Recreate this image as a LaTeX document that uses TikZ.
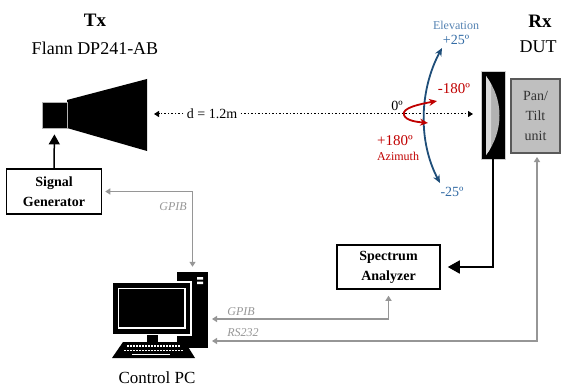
\documentclass[tikz,border=0pt]{standalone}
\usepackage{fontspec}
\setmainfont{Liberation Serif}
\usetikzlibrary{arrows.meta}
\definecolor{elevblue}{RGB}{31,78,121}
\definecolor{elevtext}{RGB}{52,108,165}
\definecolor{elevlight}{RGB}{84,130,178}
\definecolor{azred}{RGB}{192,0,0}
\definecolor{busgray}{RGB}{150,150,150}
\newcommand{\fs}[1]{\fontsize{#1}{#1}\selectfont}
\tikzset{
  box/.style={draw,line width=1.5pt,inner sep=0pt,align=center,
    font=\fontsize{14}{20}\selectfont\bfseries},
  bus/.style={busgray,line width=1.3pt,{Triangle[length=5pt,width=6pt]}-{Triangle[length=5pt,width=6pt]}},
  buslabel/.style={busgray,font=\fs{12}\itshape},
  dots/.style={line width=1pt,dash pattern=on 1.5pt off 2pt},
}
\begin{document}
\begin{tikzpicture}[x=1pt,y=-1pt]
  \useasboundingbox (0,0) rectangle (561,390);
  % titles
  \node[font=\fs{19}\bfseries] (tx) at (95,20) {Tx};
  \node[font=\fs{18}] (txname) at (95,48) {Flann DP241-AB};
  \node[font=\fs{19}\bfseries] (rx) at (540,21) {Rx};
  \node[font=\fs{18}] (rxname) at (538,47) {DUT};

  % horn antenna
  \fill (67,100) -- (147,79) -- (147,151) -- (67,128) -- cycle;
  \node[fill=black,draw=gray!60,line width=0.8pt,minimum width=25,minimum height=26,inner sep=0pt] (feed) at (54.5,115) {};

  % device under test and positioner
  \node[fill=black,draw=gray!40,line width=0.8pt,minimum width=24,minimum height=88,inner sep=0pt] (dut) at (493,115) {};
  \fill[gray!60] (486,76) .. controls (504,100) and (504,131) .. (486,155) -- cycle;
  \fill[gray!30] (486,76) .. controls (488,79) and (490,82) .. (491,84) -- (491,147) .. controls (490,150) and (488,152) .. (486,155) -- cycle;
  \node[draw=black!65,fill=black!25,line width=1.5pt,minimum width=49,minimum height=74,inner sep=0pt,
    align=center,text=black!80,font=\fontsize{14}{20}\selectfont] (pantilt) at (535.5,116) {Pan/\\Tilt\\unit};

  % instruments
  \node[box,minimum width=95,minimum height=45] (siggen) at (54,191.5) {Signal\\Generator};
  \node[box,minimum width=103,minimum height=44] (specan) at (388.5,267) {Spectrum\\Analyzer};

  % control PC
  \node[fill=black,minimum width=31,minimum height=76,inner sep=0pt] (pc) at (192.5,310) {};
  \fill[white] (197,277) rectangle (203,279.5) (197,281.5) rectangle (203,284);
  \fill[black,draw=white,line width=1.5pt] (112,282) rectangle (191,335);
  \draw[white,line width=1.2pt] (118.5,288.5) rectangle (185,328);
  \fill (147,335) rectangle (158,342);
  \fill (123,342) -- (185,342) -- (195,358) -- (112,358) -- cycle;
  \draw[white,line width=1.6pt,dash pattern=on 2pt off 1pt] (127,346) -- (180,346) (124,350.5) -- (183,350.5);
  \draw[white,line width=1.6pt] (132,354.5) -- (170,354.5);
  \node[font=\fs{17}] (pclabel) at (157,378) {Control PC};

  % measurement range
  \coordinate (mouth) at (154,114);
  \coordinate (face) at (473,114);
  \node[font=\fs{14}] (dist) at (212,114) {d = 1.2m};
  \draw[dots,-{Triangle[length=5pt,width=6pt]}] (dist.west) -- (mouth);
  \draw[dots,-{Triangle[length=5pt,width=6pt]}] (dist.east) -- (face);

  % elevation sweep
  \draw[elevblue,line width=1.8pt,{Stealth[length=8pt,width=7pt]}-{Stealth[length=8pt,width=7pt]}]
    (442,48) .. controls (419.5,89.7) and (417.8,141.1) .. (440,183);
  \node[elevlight,font=\fs{12}] (elev) at (456,25) {Elevation};
  \node[elevtext,font=\fs{14}] (elevup) at (456,40) {+25º};
  \node[elevtext,font=\fs{14}] (elevdown) at (452,192) {-25º};

  % azimuth sweep
  \draw[azred,line width=1.8pt,{Stealth[length=8pt,width=7pt]}-{Stealth[length=8pt,width=7pt]}]
    (437,101) .. controls (420,104) and (401,108) .. (404,115) .. controls (406,121) and (418,122) .. (428,123);
  \node[font=\fs{14}] (zero) at (397,106) {0º};
  \node[azred,font=\fs{15}] (azneg) at (454,89) {-180º};
  \node[azred,font=\fs{15}] (azpos) at (395,141) {+180º};
  \node[azred,font=\fs{12}] (az) at (398,156) {Azimuth};

  % signal paths
  \draw[line width=1.5pt,-{Triangle[length=10pt,width=11pt]},shorten >=6pt] (siggen.north) -- (feed.south);
  \draw[line width=1.8pt,-{Triangle[length=12pt,width=13pt]},shorten >=7pt] (dut.south) |- (specan.east);

  % control buses
  \coordinate (pcgpib) at (212,319);
  \coordinate (pcrs) at (212,341);
  \draw[bus,shorten <=3pt,shorten >=5pt] (siggen.east) -| (pc.north);
  \draw[bus,shorten >=6pt] (pcgpib) -| (specan.south);
  \draw[bus,shorten >=4pt] (pcrs) -| (537,153);
  \node[buslabel] (gpib1) at (173,207) {GPIB};
  \node[buslabel] (gpib2) at (241,312) {GPIB};
  \node[buslabel] (rs) at (243,333) {RS232};
\end{tikzpicture}
\end{document}
